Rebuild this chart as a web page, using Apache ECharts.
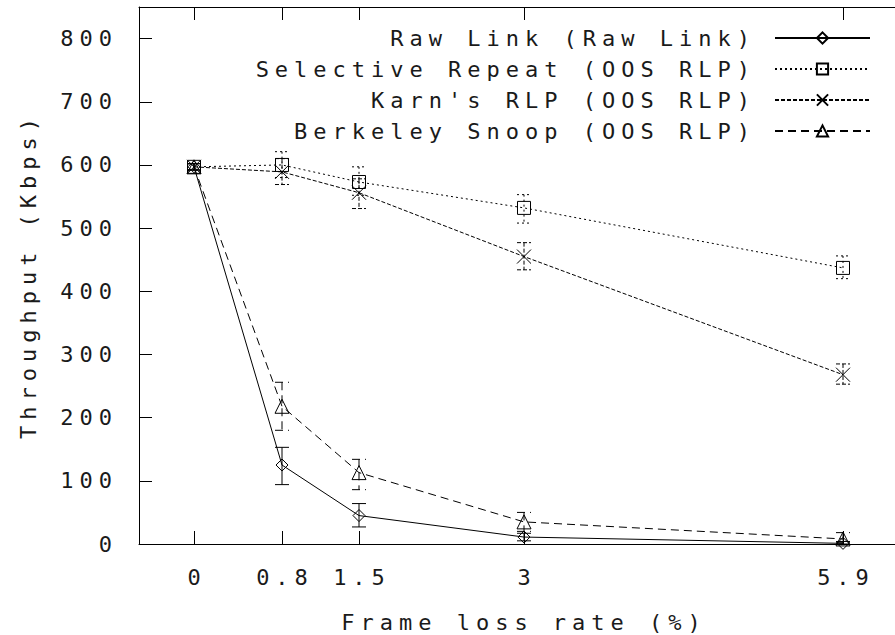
<!DOCTYPE html>
<html>
<head>
<meta charset="utf-8">
<script src="https://cdn.jsdelivr.net/npm/echarts@6/dist/echarts.min.js"></script>
<style>
html,body{margin:0;padding:0;background:#fff;}
#main{width:895px;height:635px;}
#main text{letter-spacing:6px;}
</style>
</head>
<body>
<div id="main"></div>
<script>
// ---- data ----
const xValues = [0, 0.8, 1.5, 3, 5.9];
const xTickLabels = ['0', '0.8', '1.5', '3', '5.9'];
const yTicks = [0, 100, 200, 300, 400, 500, 600, 700, 800];
const seriesNames = ['Raw Link (Raw Link)', 'Selective Repeat (OOS RLP)', "Karn's RLP (OOS RLP)", 'Berkeley Snoop (OOS RLP)'];

const rawLink      = [597, 125, 45, 11, 1];
const rawLinkLow   = [592, 94, 27, 5, 0];
const rawLinkHigh  = [602, 153, 64, 17, 4];

const selRepeat     = [597, 600, 573, 532, 437];
const selRepeatLow  = [592, 580, 552, 508, 420];
const selRepeatHigh = [602, 621, 597, 553, 456];

const karn     = [597, 589, 556, 455, 268];
const karnLow  = [592, 569, 531, 434, 253];
const karnHigh = [602, 610, 578, 477, 285];

const berkeley     = [597, 218, 113, 35, 8];
const berkeleyLow  = [592, 180, 86, 20, 2];
const berkeleyHigh = [602, 256, 134, 50, 18];

// ---- chart ----
const FONT = 'DejaVu Sans Mono';
const TEXT_COLOR = '#1a1a1a';
const chart = echarts.init(document.getElementById('main'), null, {renderer: 'svg'});

function pts(vals) { return xValues.map((x, i) => [x, vals[i]]); }
function errPts(lo, hi) { return xValues.map((x, i) => [x, lo[i], hi[i]]); }

function errRender(dash) {
  return function (params, api) {
    const x = api.value(0), lo = api.value(1), hi = api.value(2);
    const pHi = api.coord([x, hi]);
    const pLo = api.coord([x, lo]);
    const w = 7;
    const st = {stroke: '#000', lineWidth: 1, lineDash: dash, fill: null};
    return {
      type: 'group',
      children: [
        {type: 'line', shape: {x1: pHi[0], y1: pHi[1], x2: pLo[0], y2: pLo[1]}, style: st},
        {type: 'line', shape: {x1: pHi[0] - w, y1: pHi[1], x2: pHi[0] + w, y2: pHi[1]}, style: st},
        {type: 'line', shape: {x1: pLo[0] - w, y1: pLo[1], x2: pLo[0] + w, y2: pLo[1]}, style: st}
      ]
    };
  };
}

const dashes = [null, [2, 3], [4, 2], [8, 5]];
const symbols = ['diamond', 'rect', 'path://M0,0L10,10M10,0L0,10', 'triangle'];
const symbolSizes = [12, 13, 14, 14];
const mains = [rawLink, selRepeat, karn, berkeley];
const lows = [rawLinkLow, selRepeatLow, karnLow, berkeleyLow];
const highs = [rawLinkHigh, selRepeatHigh, karnHigh, berkeleyHigh];

const series = [];
for (let k = 0; k < 4; k++) {
  series.push({
    name: seriesNames[k],
    type: 'line',
    data: pts(mains[k]),
    symbol: symbols[k],
    symbolSize: symbolSizes[k],
    showSymbol: true,
    lineStyle: {color: '#000', width: 1, type: dashes[k] ? dashes[k] : 'solid'},
    itemStyle: {color: 'rgba(0,0,0,0)', borderColor: '#000', borderWidth: 1},
    emphasis: {disabled: true},
    z: 3
  });
  series.push({
    name: seriesNames[k] + ' err',
    type: 'custom',
    data: errPts(lows[k], highs[k]),
    encode: {x: 0, y: [1, 2]},
    renderItem: errRender(dashes[k]),
    silent: true,
    z: 2
  });
}

const labelStyle = {fontFamily: FONT, fontSize: 22, color: TEXT_COLOR};

chart.setOption({
  animation: false,
  backgroundColor: '#fff',
  grid: {left: 139, top: 7, width: 770, height: 537, containLabel: false, outerBoundsMode: 'none'},
  legend: {
    data: seriesNames,
    orient: 'vertical',
    right: 19,
    top: 22,
    align: 'right',
    itemWidth: 95,
    itemHeight: 14,
    itemGap: 9,
    textStyle: {fontFamily: FONT, fontSize: 22, color: TEXT_COLOR, padding: [0, 14, 0, 0]},
    selectedMode: false
  },
  xAxis: [{
    type: 'value',
    min: -0.5,
    max: 6.5,
    name: 'Frame loss rate (%)',
    nameLocation: 'middle',
    nameGap: 67,
    nameTextStyle: labelStyle,
    axisLine: {show: true, onZero: false, lineStyle: {color: '#000', width: 1}},
    axisTick: {show: true, inside: true, length: 13, customValues: xValues, lineStyle: {color: '#000'}},
    axisLabel: Object.assign({margin: 22, padding: [0, 0, 0, 6], customValues: xValues, formatter: v => xTickLabels[xValues.indexOf(v)]}, labelStyle),
    splitLine: {show: false}
  }, {
    type: 'value',
    position: 'top',
    min: -0.5,
    max: 6.5,
    axisLine: {show: true, onZero: false, lineStyle: {color: '#000', width: 1}},
    axisTick: {show: true, inside: true, length: 13, customValues: xValues, lineStyle: {color: '#000'}},
    axisLabel: {show: false},
    splitLine: {show: false}
  }],
  yAxis: [{
    type: 'value',
    min: 0,
    max: 850,
    name: 'Throughput (Kbps)',
    nameLocation: 'middle',
    nameGap: 100,
    nameTextStyle: labelStyle,
    axisLine: {show: true, onZero: false, lineStyle: {color: '#000', width: 1}},
    axisTick: {show: true, inside: true, length: 13, customValues: yTicks, lineStyle: {color: '#000'}},
    axisLabel: Object.assign({margin: 21, customValues: yTicks}, labelStyle),
    splitLine: {show: false}
  }, {
    type: 'value',
    position: 'right',
    min: 0,
    max: 850,
    axisLine: {show: true, onZero: false, lineStyle: {color: '#000', width: 1}},
    axisTick: {show: true, inside: true, length: 13, customValues: yTicks, lineStyle: {color: '#000'}},
    axisLabel: {show: false},
    splitLine: {show: false}
  }],
  series: series
});
</script>
</body>
</html>
